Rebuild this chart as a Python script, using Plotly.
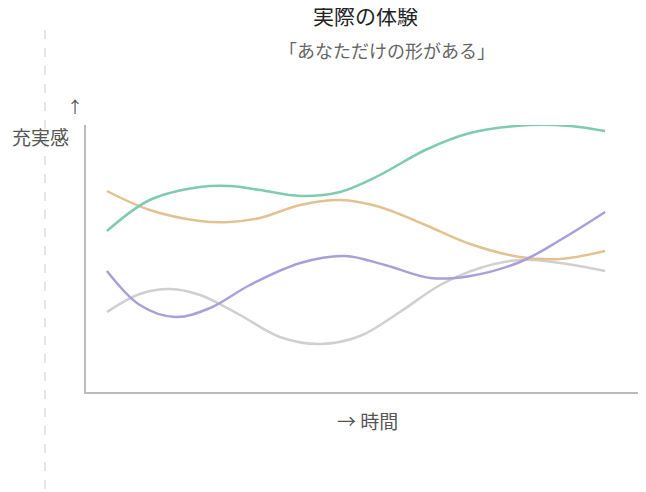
import plotly.graph_objects as go

def tx(px): return [round((p-107)/49.8, 2) for p in px]
def vy(py): return [392-p for p in py]

green_x = tx([107,150,200,230,260,300,340,380,425,470,530,570,605])
green_y = vy([231,200,187,186,190,196,192,175,150,133,125,126,131])
orange_x = tx([107,150,200,230,260,300,340,380,425,470,520,560,605])
orange_y = vy([191,210,221,222,218,205,200,207,225,244,257,259,251])
purple_x = tx([107,140,175,210,250,300,345,385,430,470,520,560,605])
purple_y = vy([271,305,317,308,285,263,256,265,278,276,262,240,212])
gray_x = tx([107,140,170,200,240,280,320,360,400,440,480,520,560,605])
gray_y = vy([312,294,289,295,315,337,344,336,312,285,268,260,263,271])

fig = go.Figure()
for xs, ys, c in [(gray_x, gray_y, "#d0d0d0"), (orange_x, orange_y, "#e2c291"),
                  (purple_x, purple_y, "#ab9fda"), (green_x, green_y, "#7fcbb1")]:
    fig.add_trace(go.Scatter(x=xs, y=ys, mode="lines", line=dict(color=c, width=2.5, shape="spline"),
                             hoverinfo="skip", showlegend=False))

H = 267
def py(p): return (392-p)/H
def px(p): return (p-86)/559
def ann(text, x, y, size, color):
    return dict(text=text, x=px(x), y=py(y), xref="paper", yref="paper", showarrow=False,
                xanchor="center", yanchor="middle", font=dict(size=size, color=color))
fig.update_layout(
    width=646, height=492, margin=dict(l=78, r=9, t=117, b=108),
    paper_bgcolor="white", plot_bgcolor="white",
    font=dict(family="Noto Sans CJK JP", color="#555"),
    xaxis=dict(range=[-0.42, 10.8], showgrid=False, zeroline=False, showticklabels=False,
               showline=True, linecolor="#bbb", linewidth=1.5),
    yaxis=dict(range=[0, H], showgrid=False, zeroline=False, showticklabels=False,
               showline=True, linecolor="#bbb", linewidth=1.5),
    shapes=[dict(type="line", xref="paper", yref="paper", x0=px(45), x1=px(45), y0=py(30), y1=py(492),
                 line=dict(color="#ddd", width=1.5, dash="dash"))],
    annotations=[
        ann("実際の体験", 365, 15, 21, "#222"),
        ann("「あなただけの形がある」", 387, 50, 18, "#666"),
        ann("↑", 75, 106, 16, "#555"),
        ann("充実感", 40, 136, 19, "#555"),
        ann("→ 時間", 367, 420, 19, "#555"),
    ],
)
fig.write_html("out.html")
